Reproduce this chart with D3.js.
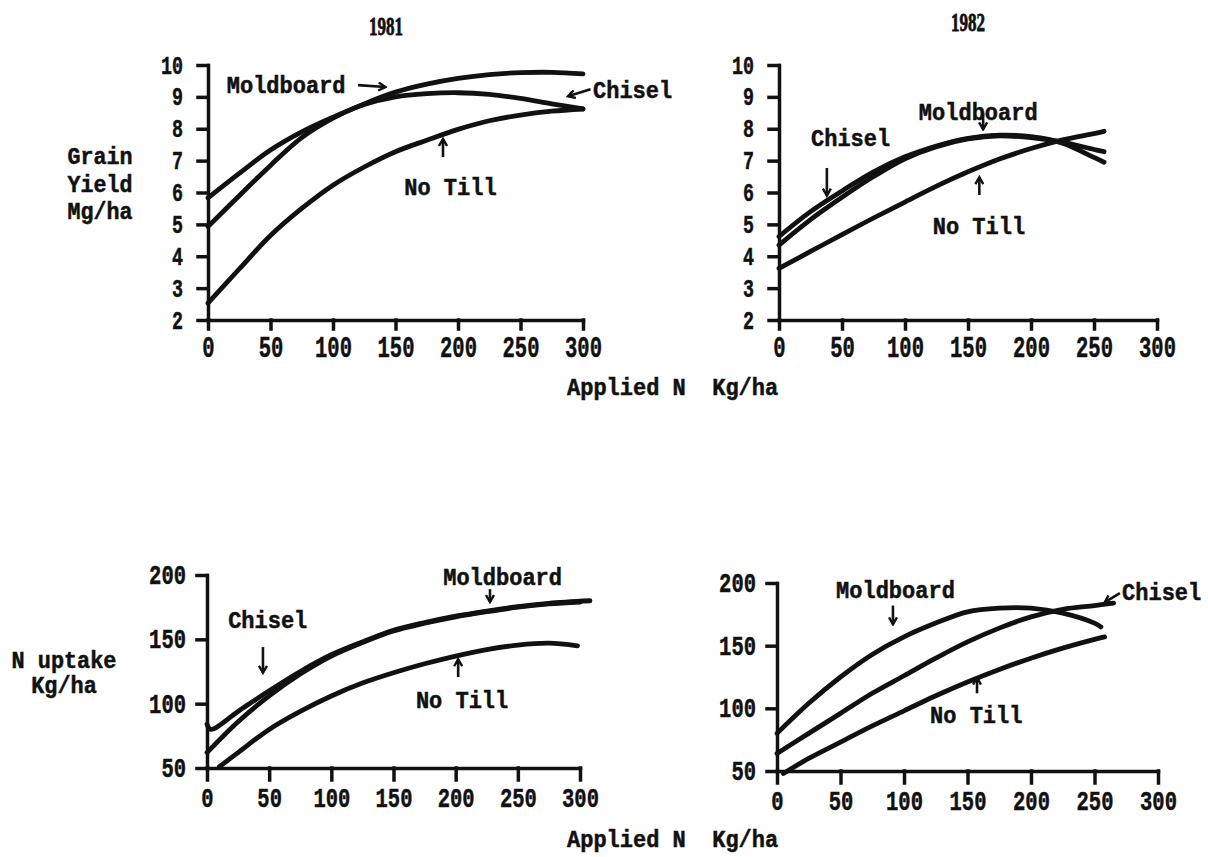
<!DOCTYPE html>
<html>
<head>
<meta charset="utf-8">
<script src="https://cdn.jsdelivr.net/npm/d3@7"></script>
<style>
  body { margin: 0; background: #fff; }
  svg text { font-family: "Liberation Mono", "Courier New", monospace; font-weight: bold; fill: #111; stroke: #111; stroke-width: 0.5px; }
</style>
</head>
<body>
<div id="viz"></div>
<script>
// tick labels
const xTicks = [0, 50, 100, 150, 200, 250, 300];
const yieldTicks = [2, 3, 4, 5, 6, 7, 8, 9, 10];
const uptakeTicks = [50, 100, 150, 200];
const years = ["1981", "1982"];
const seriesNames = ["Moldboard", "Chisel", "No Till"];

// grain yield 1981, [applied N, Mg/ha]
const yield81Moldboard = [[0,4.93],[25,5.9],[50,6.85],[75,7.72],[100,8.33],[125,8.78],[150,9.15],[175,9.4],[200,9.58],[225,9.7],[250,9.76],[275,9.77],[300,9.72]];
const yield81Chisel = [[0,5.83],[25,6.6],[50,7.33],[75,7.9],[100,8.36],[125,8.76],[150,9.0],[175,9.1],[200,9.13],[225,9.08],[250,8.95],[275,8.78],[300,8.62]];
const yield81NoTill = [[0,2.53],[25,3.6],[50,4.65],[75,5.5],[100,6.23],[125,6.8],[150,7.28],[175,7.64],[200,7.98],[225,8.25],[250,8.43],[275,8.55],[300,8.62]];

// grain yield 1982
const yield82Moldboard = [[0,4.62],[25,5.4],[50,6.05],[75,6.65],[100,7.12],[125,7.46],[150,7.7],[175,7.8],[200,7.75],[225,7.55],[250,7.1],[258,6.95]];
const yield82Chisel = [[0,4.35],[25,5.15],[50,5.85],[75,6.5],[100,7.06],[125,7.44],[150,7.68],[175,7.78],[200,7.72],[225,7.58],[250,7.35],[258,7.28]];
const yield82NoTill = [[0,3.62],[25,4.15],[50,4.68],[75,5.2],[100,5.7],[125,6.2],[150,6.65],[175,7.05],[200,7.38],[225,7.65],[250,7.85],[258,7.92]];

// N uptake 1981, [applied N, kg/ha]
const uptake81Moldboard = [[0,84],[3,80],[25,94],[50,110],[75,125],[100,138],[125,148],[150,157],[175,163],[200,168],[225,172],[250,175.5],[275,178],[308,180]];
const uptake81Chisel = [[0,62],[25,86],[50,106],[75,123],[100,137],[125,147.5],[150,156.5],[175,162.5],[200,167.5],[225,171.5],[250,175],[275,177.5],[300,179]];
const uptake81NoTill = [[10,51],[25,62],[50,80],[75,94],[100,106],[125,116],[150,124],[175,131],[200,137],[225,142],[250,145.5],[275,147],[298,145]];

// N uptake 1982
const uptake82Moldboard = [[0,80],[25,104],[50,125],[75,143],[100,157],[125,168],[150,177],[175,180],[200,180],[225,176],[250,168],[255,165]];
const uptake82Chisel = [[0,64],[25,80],[50,96],[75,112],[100,126],[125,140],[150,153],[175,164],[200,173],[225,179],[250,182],[265,184]];
const uptake82NoTill = [[5,48],[25,60],[50,73],[75,86],[100,98],[125,110],[150,121],[175,131],[200,140],[225,148],[250,155],[258,157]];

let svg = d3.select("#viz").append("svg")
  .attr("width", 1208)
  .attr("height", 857);

svg.append("defs").append("marker")
  .attr("id", "head")
  .attr("viewBox", "-1 -5 10 10")
  .attr("refX", 7).attr("refY", 0)
  .attr("markerWidth", 10).attr("markerHeight", 10)
  .attr("markerUnits", "userSpaceOnUse")
  .attr("orient", "auto")
  .append("path")
  .attr("d", "M0,-4 L7,0 L0,4")
  .attr("fill", "none")
  .attr("stroke", "#111")
  .attr("stroke-width", 2.4);

// squeeze text to the typewriter width
function squeeze(sel, perChar) {
  sel.attr("textLength", function() { return this.textContent.length * perChar; })
    .attr("lengthAdjust", "spacingAndGlyphs");
}

let panels = [
  { xr: [208, 583], yr: [320, 65], yd: [2, 10], yt: yieldTicks, bottom: false,
    series: [yield81Moldboard, yield81Chisel, yield81NoTill],
    notes: [
      { s: 0, at: [15, 9.12], arrow: [[120, 9.37], [142, 9.31]] },
      { s: 1, at: [308, 8.96], arrow: [[306, 9.24], [288, 9.02]] },
      { s: 2, at: [157, 5.92], arrow: [[188, 7.11], [188, 7.68]] }
    ] },
  { xr: [779, 1157], yr: [320, 65], yd: [2, 10], yt: yieldTicks, bottom: false,
    series: [yield82Moldboard, yield82Chisel, yield82NoTill],
    notes: [
      { s: 0, at: [111, 8.27], arrow: [[162, 8.49], [162, 7.98]] },
      { s: 1, at: [25.4, 7.46], arrow: [[38, 6.77], [38, 5.9]] },
      { s: 2, at: [122, 4.7], arrow: [[159, 5.92], [159, 6.48]] }
    ] },
  { xr: [207, 580], yr: [768, 575], yd: [50, 200], yt: uptakeTicks, bottom: true,
    series: [uptake81Moldboard, uptake81Chisel, uptake81NoTill],
    notes: [
      { s: 0, at: [190, 192.2], arrow: [[227.6, 189], [227.6, 179]] },
      { s: 1, at: [17, 158.8], arrow: [[45, 144], [45, 124]] },
      { s: 2, at: [168, 96.6], arrow: [[202, 120.7], [202, 134.5]] }
    ] },
  { xr: [777, 1158], yr: [771, 583], yd: [50, 200], yt: uptakeTicks, bottom: true,
    series: [uptake82Moldboard, uptake82Chisel, uptake82NoTill],
    notes: [
      { s: 0, at: [46.5, 188], arrow: [[91.3, 182], [91.3, 167]] },
      { s: 1, at: [271.7, 186.4], arrow: [[270, 192], [258, 184.5]] },
      { s: 2, at: [120.5, 88.3], arrow: [[157.5, 112], [157.5, 124.5]] }
    ] }
];

panels.forEach(p => {
  let x = d3.scaleLinear().domain([0, 300]).range(p.xr);
  let y = d3.scaleLinear().domain(p.yd).range(p.yr);
  let g = svg.append("g");

  // y axis
  let yAxis = g.append("g")
    .attr("transform", `translate(${p.xr[0]},0)`)
    .call(d3.axisLeft(y).tickValues(p.yt).tickSize(10).tickSizeOuter(0)
      .tickPadding(p.bottom ? 11 : 15).tickFormat(d3.format("d")));
  yAxis.selectAll("text")
    .style("font-size", p.bottom ? "27px" : "25px")
    .call(squeeze, p.bottom ? 12.3 : 11);

  // x axis
  let xAxis = g.append("g")
    .attr("transform", `translate(0,${p.yr[0]})`)
    .call(d3.axisBottom(x).tickValues(xTicks).tickSize(p.bottom ? 12 : 9).tickSizeOuter(0)
      .tickPadding(p.bottom ? 8 : 7));
  xAxis.selectAll("text")
    .style("font-size", p.bottom ? "27px" : "29px")
    .call(squeeze, 12.3);

  g.selectAll(".domain, .tick line")
    .attr("stroke", "#111")
    .attr("stroke-width", 3.5)
    .attr("stroke-linecap", "square");
  g.selectAll(".tick text").attr("fill", "#111");

  let line = d3.line()
    .x(d => x(d[0]))
    .y(d => y(d[1]))
    .curve(d3.curveCatmullRom.alpha(0.5));

  g.selectAll(".curve")
    .data(p.series)
    .enter().append("path")
    .attr("class", "curve")
    .attr("fill", "none")
    .attr("stroke", "#111")
    .attr("stroke-width", 4.8)
    .attr("stroke-linecap", "round")
    .attr("d", line);

  p.notes.forEach(n => {
    g.append("text")
      .attr("x", x(n.at[0]))
      .attr("y", y(n.at[1]))
      .style("font-size", "23px")
      .text(seriesNames[n.s])
      .call(squeeze, 13.2);

    g.append("line")
      .attr("x1", x(n.arrow[0][0])).attr("y1", y(n.arrow[0][1]))
      .attr("x2", x(n.arrow[1][0])).attr("y2", y(n.arrow[1][1]))
      .attr("stroke", "#111")
      .attr("stroke-width", 2.6)
      .attr("marker-end", "url(#head)");
  });
});

// year titles
svg.selectAll(".year")
  .data(years)
  .enter().append("text")
  .attr("class", "year")
  .attr("x", (d, i) => i ? 968 : 386)
  .attr("y", (d, i) => i ? 31 : 35)
  .attr("text-anchor", "middle")
  .style("font-family", "'Liberation Serif', serif")
  .style("font-size", "26px")
  .style("stroke-width", "0.8px")
  .text(d => d)
  .call(squeeze, 8.5);

// x axis titles
[395, 847].forEach(yy => {
  svg.append("text")
    .attr("x", 567)
    .attr("y", yy)
    .style("font-size", "23px")
    .style("white-space", "pre")
    .text("Applied N  Kg/ha")
    .call(squeeze, 13.2);
});

// y axis titles
let yLab1 = ["Grain", "Yield", "Mg/ha"];
svg.selectAll(".ylab1")
  .data(yLab1)
  .enter().append("text")
  .attr("x", 100)
  .attr("y", (d, i) => 164 + i * 27.5)
  .attr("text-anchor", "middle")
  .style("font-size", "23px")
  .text(d => d)
  .call(squeeze, 13);

let yLab2 = ["N uptake", "Kg/ha"];
svg.selectAll(".ylab2")
  .data(yLab2)
  .enter().append("text")
  .attr("x", 64)
  .attr("y", (d, i) => 668 + i * 25)
  .attr("text-anchor", "middle")
  .style("font-size", "23px")
  .style("white-space", "pre")
  .text(d => d)
  .call(squeeze, 13.1);
</script>
</body>
</html>
